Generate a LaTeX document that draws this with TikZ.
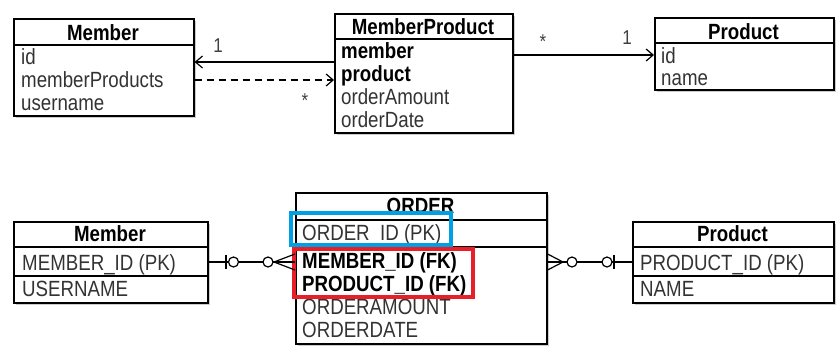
\documentclass[tikz,border=0pt]{standalone}
\usepackage{fontspec}
\setmainfont{Liberation Sans}[FakeStretch=0.85]
\usetikzlibrary{arrows.meta,shadows,calc}
\definecolor{hlblue}{RGB}{0,160,226}
\definecolor{hlred}{RGB}{232,30,40}
\begin{document}
\begin{tikzpicture}[x=1pt,y=-1pt,
  box/.style={draw=black, line width=1.6pt, fill=white, inner sep=0pt, anchor=north west,
    drop shadow={shadow xshift=2pt,shadow yshift=-2.5pt,fill=black!40}},
  item/.style={anchor=base west, inner sep=0pt, font=\fontsize{22}{24}\selectfont, text=black!80},
  bitem/.style={item, font=\fontsize{22}{24}\selectfont\bfseries, text=black},
  title/.style={anchor=base, inner sep=0pt, font=\fontsize{22}{24}\selectfont\bfseries},
  lbl/.style={inner sep=0pt, font=\fontsize{20}{22}\selectfont, text=black!75},
  sep/.style={line width=1.2pt},
  tsep/.style={line width=2.8pt},
  uarrow/.style={line width=1.2pt, -{Straight Barb[length=7pt,width=12pt,line width=1.2pt]}},
  conn/.style={line width=1.2pt},
  hl/.style={line width=4pt}
]
\useasboundingbox (0,0) rectangle (840,348);

% ---------- top diagram ----------
\node[box, minimum width=180pt, minimum height=97pt] (m1) at (13,18) {};
\draw[tsep] (m1.west |- 0,45) -- (m1.east |- 0,45);
\node[title] (m1t) at (103,40) {Member};
\node[item] (m1a) at (21,64) {id};
\node[item] (m1b) at (21,87) {memberProducts};
\node[item] (m1c) at (21,110) {username};

\node[box, minimum width=178pt, minimum height=119pt] (mp) at (334,13) {};
\draw[sep] (mp.west |- 0,39) -- (mp.east |- 0,39);
\node[title] (mpt) at (423,34) {MemberProduct};
\node[bitem] (mpa) at (341,58) {member};
\node[bitem] (mpb) at (341,81) {product};
\node[item] (mpc) at (341,104) {orderAmount};
\node[item] (mpd) at (341,127) {orderDate};

\node[box, minimum width=179pt, minimum height=72pt] (p1) at (654,17) {};
\draw[sep] (p1.west |- 0,43) -- (p1.east |- 0,43);
\node[title] (p1t) at (743.5,39) {Product};
\node[item] (p1a) at (661,63) {id};
\node[item] (p1b) at (661,85) {name};

\draw[uarrow, line width=2pt] (mp.west |- 0,62) -- (m1.east |- 0,62);
\node[lbl] (l1) at (218,46) {1};
\draw[uarrow, dashed, dash pattern=on 7pt off 5pt] (m1.east |- 0,80) -- (mp.west |- 0,80);
\node[lbl] (l2) at (305,101) {*};
\draw[uarrow] (mp.east |- 0,55) -- (p1.west |- 0,55);
\node[lbl] (l3) at (543,42) {*};
\node[lbl] (l4) at (627,38) {1};

% ---------- bottom diagram ----------
\node[box, minimum width=194pt, minimum height=81pt] (m2) at (13,221) {};
\draw[sep] (m2.west |- 0,247) -- (m2.east |- 0,247);
\draw[tsep] (m2.west |- 0,276) -- (m2.east |- 0,276);
\node[title] (m2t) at (110,241) {Member};
\node[item] (m2a) at (22,270) {MEMBER\_ID (PK)};
\node[item] (m2b) at (22,296) {USERNAME};

\node[box, minimum width=251pt, minimum height=151pt] (o) at (295,192) {};
\draw[sep] (o.west |- 0,220) -- (o.east |- 0,220);
\draw[sep] (o.west |- 0,247) -- (o.east |- 0,247);
\node[title] (ot) at (420.5,213) {ORDER};
\node[item] (oa) at (302,240) {ORDER\_ID (PK)};
\node[bitem] (ob) at (302,268) {MEMBER\_ID (FK)};
\node[bitem] (oc) at (302,291) {PRODUCT\_ID (FK)};
\node[item] (od) at (302,314) {ORDERAMOUNT};
\node[item] (oe) at (302,337) {ORDERDATE};
\draw[hl, hlblue] (291,213) rectangle (451,245);
\draw[hl, hlred] (294,249) rectangle (473,297);

\node[box, minimum width=201pt, minimum height=81pt] (p2) at (632,221) {};
\draw[sep] (p2.west |- 0,247) -- (p2.east |- 0,247);
\draw[tsep] (p2.west |- 0,276) -- (p2.east |- 0,276);
\node[title] (p2t) at (732.5,241) {Product};
\node[item] (p2a) at (640,270) {PRODUCT\_ID (PK)};
\node[item] (p2b) at (640,296) {NAME};

% left relation: Member 1 -- 0..many ORDER
\draw[conn] (m2.east |- 0,262) -- (o.west |- 0,262);
\draw[conn] (226,255) -- (226,269);
\draw[conn, fill=white] (233.5,262) circle (5pt);
\draw[conn, fill=white] (268,262) circle (5pt);
\draw[conn] (o.west |- 0,254) -- (274,262) -- (o.west |- 0,270);

% right relation: ORDER 0..many -- 1 Product
\draw[conn] (o.east |- 0,262) -- (p2.west |- 0,262);
\draw[conn] (o.east |- 0,254) -- (563,262) -- (o.east |- 0,270);
\draw[conn, fill=white] (572,262) circle (5pt);
\draw[conn, fill=white] (607,262) circle (5pt);
\draw[conn] (614,255) -- (614,269);
\end{tikzpicture}
\end{document}
